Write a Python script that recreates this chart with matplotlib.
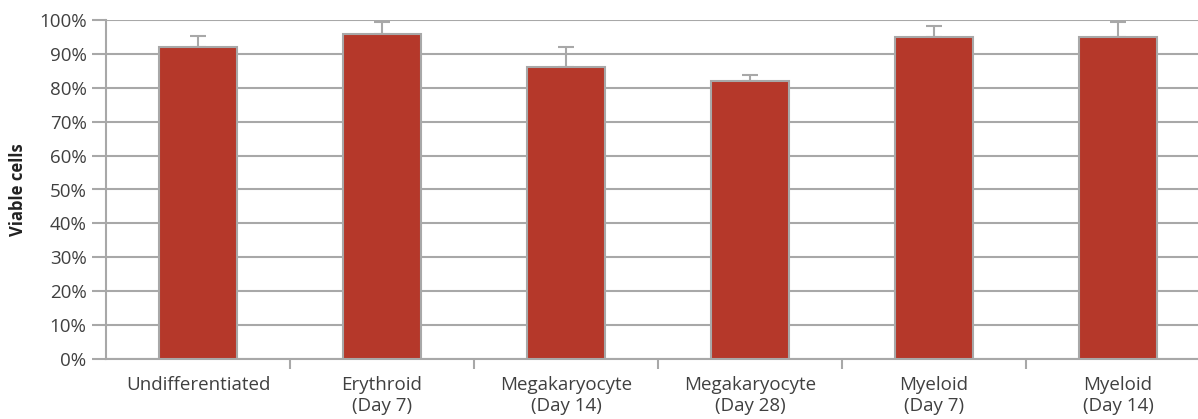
import matplotlib
matplotlib.use("Agg")
import matplotlib.pyplot as plt
from matplotlib.ticker import PercentFormatter

# values
categories = ["Undifferentiated", "Erythroid\n(Day 7)", "Megakaryocyte\n(Day 14)",
              "Megakaryocyte\n(Day 28)", "Myeloid\n(Day 7)", "Myeloid\n(Day 14)"]
viable = [92, 96, 86, 82, 95, 95]
err_up = [3.3, 3.5, 6.0, 1.8, 3.2, 4.5]

bar_color = "#B5382A"
grey = "#A8A8A8"
text_color = "#404040"

plt.rcParams["font.family"] = ["Open Sans", "DejaVu Sans"]

fig = plt.figure(figsize=(11.98, 4.19), dpi=100)
# axis runs a little past the right edge, like the original crop
ax = fig.add_axes([106 / 1198, 60 / 419, 1104 / 1198, 339 / 419])

x = list(range(len(categories)))
ax.bar(x, viable, width=0.42, color=bar_color, edgecolor=grey, linewidth=1.5, zorder=3)
ax.errorbar(x, viable, yerr=[[0] * len(err_up), err_up], fmt="none",
            ecolor=grey, elinewidth=1.5, capsize=6, capthick=1.5, zorder=2)

ax.set_xlim(-0.5, len(categories) - 0.5)
ax.set_ylim(0, 100)
ax.set_yticks(range(0, 101, 10))
ax.yaxis.set_major_formatter(PercentFormatter(decimals=0))
ax.grid(axis="y", color=grey, linewidth=1.5, zorder=0)

# category boundary ticks on x axis
ax.set_xticks([i + 0.5 for i in x[:-1]], minor=True)
ax.set_xticks(x)
ax.set_xticklabels(categories, fontsize=13.5, color=text_color, linespacing=1.25)
ax.tick_params(axis="x", which="major", length=0, pad=12)
ax.tick_params(axis="x", which="minor", length=7, width=1.5, color=grey)
ax.tick_params(axis="y", length=10, width=1.5, color=grey, labelsize=13.5,
               labelcolor=text_color, pad=4)

for s in ["top", "right"]:
    ax.spines[s].set_visible(False)
for s in ["left", "bottom"]:
    ax.spines[s].set_color(grey)
    ax.spines[s].set_linewidth(1.5)

fig.text(18 / 1198, 1 - 190 / 419, "Viable cells", rotation=90, fontsize=12,
         fontweight="bold", color="#222222", ha="center", va="center")

fig.savefig("out.png", dpi=100)
